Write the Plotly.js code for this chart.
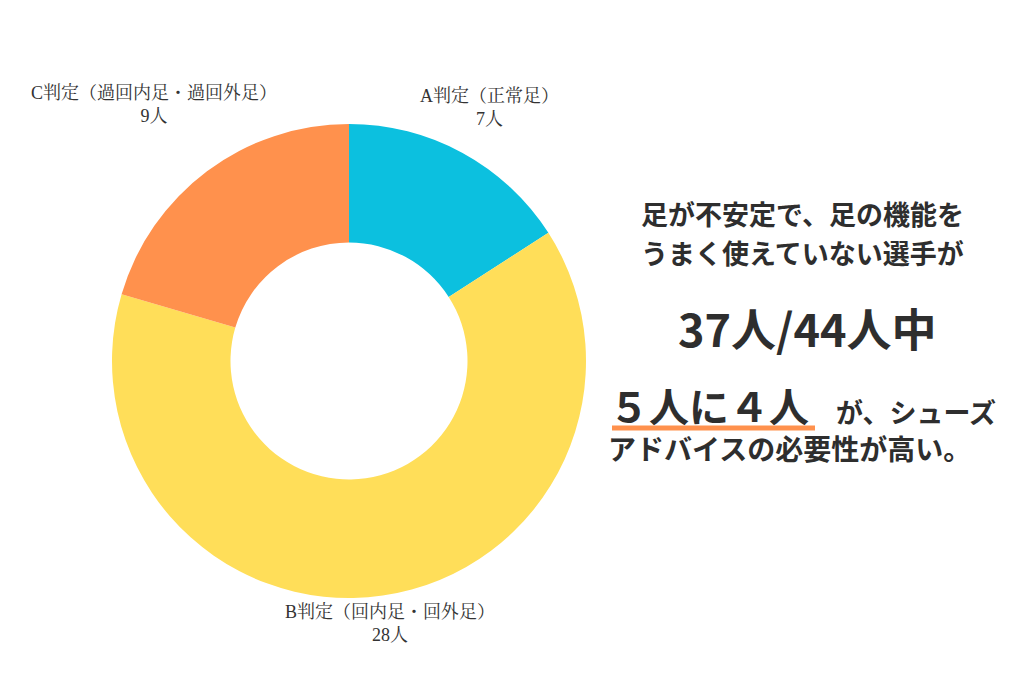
<!DOCTYPE html>
<html><head><meta charset="utf-8">
<script src="https://cdn.plot.ly/plotly-3.0.1.min.js"></script>
<style>html,body{margin:0;padding:0;background:#fff}#chart{width:1024px;height:691px}</style>
</head><body><div id="chart"></div>
<script>
const categories = ["A判定（正常足）", "B判定（回内足・回外足）", "C判定（過回内足・過回外足）"];
const values = [7, 28, 9];
const unit = "人";
const colors = ["#0CC0DF", "#FFDE59", "#FF914D"];
const labelPos = [[0.478, 0.845], [0.381, 0.098], [0.150, 0.849]];
const sideText = ["足が不安定で、足の機能を", "うまく使えていない選手が", "37人/44人中", "５人に４人", "が、シューズ", "アドバイスの必要性が高い。"];

const serif = "Liberation Serif, Noto Serif CJK JP, Noto Sans CJK JP, serif";
const sans = "Noto Sans CJK JP, Noto Sans, sans-serif";
const dark = "#2e2e2e";

const ann = categories.map((c, i) => ({
  xref: "paper", yref: "paper", x: labelPos[i][0], y: labelPos[i][1],
  xanchor: "center", yanchor: "middle", showarrow: false, align: "center",
  text: c + "<br>" + values[i] + unit,
  font: {family: serif, size: 18, color: "#333"}
}));
const W = 1024, H = 691;
function px(x){return x / W;}
function py(y){return 1 - y / H;}
ann.push(
  {xref:"paper", yref:"paper", x:px(802), y:py(214), xanchor:"center", yanchor:"middle", showarrow:false, text:sideText[0], font:{family:sans, size:27, color:dark, weight:700}},
  {xref:"paper", yref:"paper", x:px(802), y:py(252), xanchor:"center", yanchor:"middle", showarrow:false, text:sideText[1], font:{family:sans, size:27, color:dark, weight:700}},
  {xref:"paper", yref:"paper", x:px(807), y:py(327), xanchor:"center", yanchor:"middle", showarrow:false, text:sideText[2], font:{family:sans, size:45, color:dark, weight:700}},
  {xref:"paper", yref:"paper", x:px(709), y:py(405), xanchor:"center", yanchor:"middle", showarrow:false, text:sideText[3], font:{family:sans, size:40, color:dark, weight:700}},
  {xref:"paper", yref:"paper", x:px(916), y:py(411), xanchor:"center", yanchor:"middle", showarrow:false, text:sideText[4], font:{family:sans, size:27, color:dark, weight:700}},
  {xref:"paper", yref:"paper", x:px(606), y:py(448), xanchor:"left", yanchor:"middle", showarrow:false, text:sideText[5], font:{family:sans, size:28, color:dark, weight:700}}
);

const data = [{
  type: "pie", values: values, labels: categories, hole: 0.5, sort: false,
  direction: "clockwise", rotation: 0, textinfo: "none", hoverinfo: "label+value",
  marker: {colors: colors, line: {width: 0}},
  domain: {x: [112 / W, 586 / W], y: [1 - 598 / H, 1 - 124 / H]}
}];
const layout = {
  width: W, height: H, margin: {l: 0, r: 0, t: 0, b: 0},
  paper_bgcolor: "#fff", plot_bgcolor: "#fff", showlegend: false,
  annotations: ann,
  shapes: [{type: "line", xref: "paper", yref: "paper", x0: px(612), x1: px(815), y0: py(428), y1: py(428), line: {color: "#FF914D", width: 5}}]
};
Plotly.newPlot("chart", data, layout, {displayModeBar: false, staticPlot: true});
</script></body></html>
